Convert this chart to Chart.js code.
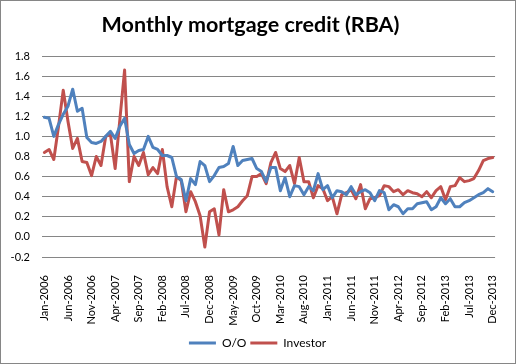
<!DOCTYPE html>
<html>
<head>
<meta charset="utf-8">
<script src="https://cdn.jsdelivr.net/npm/chart.js@4.4.1/dist/chart.umd.min.js"></script>
<style>
    html, body { margin: 0; padding: 0; background: #fff; }
    #wrap { width: 516px; height: 364px; }
</style>
</head>
<body>
<div id="wrap"><canvas id="chart" width="516" height="364"></canvas></div>
<script>
const months = [
    'Jan-2006','Feb-2006','Mar-2006','Apr-2006','May-2006','Jun-2006','Jul-2006','Aug-2006','Sep-2006','Oct-2006','Nov-2006','Dec-2006',
    'Jan-2007','Feb-2007','Mar-2007','Apr-2007','May-2007','Jun-2007','Jul-2007','Aug-2007','Sep-2007','Oct-2007','Nov-2007','Dec-2007',
    'Jan-2008','Feb-2008','Mar-2008','Apr-2008','May-2008','Jun-2008','Jul-2008','Aug-2008','Sep-2008','Oct-2008','Nov-2008','Dec-2008',
    'Jan-2009','Feb-2009','Mar-2009','Apr-2009','May-2009','Jun-2009','Jul-2009','Aug-2009','Sep-2009','Oct-2009','Nov-2009','Dec-2009',
    'Jan-2010','Feb-2010','Mar-2010','Apr-2010','May-2010','Jun-2010','Jul-2010','Aug-2010','Sep-2010','Oct-2010','Nov-2010','Dec-2010',
    'Jan-2011','Feb-2011','Mar-2011','Apr-2011','May-2011','Jun-2011','Jul-2011','Aug-2011','Sep-2011','Oct-2011','Nov-2011','Dec-2011',
    'Jan-2012','Feb-2012','Mar-2012','Apr-2012','May-2012','Jun-2012','Jul-2012','Aug-2012','Sep-2012','Oct-2012','Nov-2012','Dec-2012',
    'Jan-2013','Feb-2013','Mar-2013','Apr-2013','May-2013','Jun-2013','Jul-2013','Aug-2013','Sep-2013','Oct-2013','Nov-2013','Dec-2013'
];

// labels Excel actually prints on the category axis
const shownTicks = [
    'Jan-2006','Jun-2006','Nov-2006','Apr-2007','Sep-2007','Feb-2008','Jul-2008','Dec-2008','May-2009','Oct-2009',
    'Mar-2010','Aug-2010','Jan-2011','Jun-2011','Nov-2011','Apr-2012','Sep-2012','Feb-2013','Jul-2013','Dec-2013'
];

const ownerOccupier = [
    1.19, 1.18, 1.00, 1.12, 1.22, 1.30, 1.47, 1.25, 1.28, 0.99, 0.94, 0.93,
    0.95, 1.00, 1.05, 0.98, 1.10, 1.18, 0.92, 0.83, 0.86, 0.87, 1.00, 0.89,
    0.87, 0.81, 0.81, 0.79, 0.60, 0.57, 0.36, 0.58, 0.52, 0.75, 0.71, 0.55,
    0.61, 0.69, 0.70, 0.73, 0.90, 0.71, 0.76, 0.77, 0.78, 0.68, 0.65, 0.55,
    0.69, 0.69, 0.46, 0.59, 0.40, 0.51, 0.50, 0.42, 0.50, 0.46, 0.63, 0.47,
    0.51, 0.39, 0.46, 0.45, 0.42, 0.50, 0.42, 0.45, 0.47, 0.44, 0.36, 0.46,
    0.44, 0.27, 0.32, 0.30, 0.23, 0.28, 0.28, 0.33, 0.34, 0.35, 0.27, 0.30,
    0.39, 0.33, 0.38, 0.30, 0.30, 0.34, 0.36, 0.39, 0.42, 0.44, 0.48, 0.45
];

const investor = [
    0.84, 0.87, 0.77, 1.10, 1.46, 1.15, 0.88, 0.98, 0.75, 0.74, 0.61, 0.80,
    0.71, 1.00, 1.02, 0.68, 1.17, 1.66, 0.55, 0.80, 0.71, 0.84, 0.62, 0.69,
    0.63, 0.87, 0.50, 0.30, 0.60, 0.56, 0.25, 0.45, 0.35, 0.21, -0.10, 0.25,
    0.28, 0.02, 0.47, 0.25, 0.27, 0.30, 0.36, 0.41, 0.60, 0.60, 0.63, 0.53,
    0.74, 0.84, 0.68, 0.65, 0.71, 0.53, 0.79, 0.55, 0.55, 0.39, 0.51, 0.48,
    0.36, 0.40, 0.23, 0.42, 0.44, 0.47, 0.38, 0.52, 0.28, 0.38, 0.39, 0.41,
    0.51, 0.50, 0.45, 0.47, 0.42, 0.46, 0.44, 0.43, 0.40, 0.45, 0.39, 0.46,
    0.50, 0.37, 0.50, 0.51, 0.59, 0.55, 0.56, 0.58, 0.66, 0.76, 0.78, 0.79
];

const FONT = 'Lato, "Liberation Sans", sans-serif';

// white background + thin chart-area frame, like the Excel export
const chartFrame = {
    id: 'chartFrame',
    beforeDraw(chart) {
        const ctx = chart.ctx;
        ctx.save();
        ctx.fillStyle = '#ffffff';
        ctx.fillRect(0, 0, chart.width, chart.height);
        ctx.strokeStyle = '#868686';
        ctx.lineWidth = 1;
        ctx.strokeRect(0.5, 0.5, chart.width - 1, chart.height - 1);
        ctx.restore();
    }
};

// Excel centres the legend a bit left of the plot centre
const legendNudge = {
    id: 'legendNudge',
    afterLayout(chart) {
        if (chart.legend) {
            chart.legend.left -= 11;
            chart.legend.right -= 11;
        }
    }
};

const ctx = document.getElementById('chart').getContext('2d');
new Chart(ctx, {
    type: 'line',
    data: {
        labels: months,
        datasets: [
            {
                label: 'O/O',
                data: ownerOccupier,
                borderColor: '#4f81bd',
                backgroundColor: '#4f81bd',
                borderWidth: 3,
                pointRadius: 0,
                tension: 0,
                borderJoinStyle: 'round',
                borderCapStyle: 'round'
            },
            {
                label: 'Investor',
                data: investor,
                borderColor: '#c0504d',
                backgroundColor: '#c0504d',
                borderWidth: 3,
                pointRadius: 0,
                tension: 0,
                borderJoinStyle: 'round',
                borderCapStyle: 'round'
            }
        ]
    },
    options: {
        responsive: false,
        animation: false,
        layout: { padding: { left: 0, right: 15, top: 0, bottom: 5 } },
        plugins: {
            title: {
                display: true,
                text: 'Monthly mortgage credit (RBA)',
                color: '#000',
                font: { family: FONT, size: 21.5, weight: 'bold', lineHeight: 1.2 },
                padding: { top: 12, bottom: 18.2 }
            },
            legend: {
                position: 'bottom',
                fullSize: false,
                labels: {
                    usePointStyle: true,
                    pointStyle: 'line',
                    pointStyleWidth: 27,
                    padding: 4,
                    color: '#000',
                    font: { family: FONT, size: 12 }
                }
            },
            tooltip: { enabled: false }
        },
        scales: {
            x: {
                offset: true,
                grid: { display: false },
                border: { display: false },
                ticks: {
                    autoSkip: false,
                    maxRotation: 90,
                    minRotation: 90,
                    padding: 10,
                    color: '#000',
                    font: { family: FONT, size: 11 },
                    callback: function (value, index) {
                        const lab = months[index];
                        return shownTicks.includes(lab) ? lab : '';
                    }
                },
                afterFit: (scale) => { scale.height = 76; }
            },
            y: {
                min: -0.2,
                max: 1.8,
                grid: { color: '#868686', lineWidth: 1, drawTicks: false },
                border: { display: false },
                ticks: {
                    stepSize: 0.2,
                    padding: 12,
                    color: '#000',
                    font: { family: FONT, size: 11 },
                    callback: (v) => v.toFixed(1)
                },
                afterFit: (scale) => { scale.width = 42; }
            }
        }
    },
    plugins: [chartFrame, legendNudge]
});
</script>
</body>
</html>
